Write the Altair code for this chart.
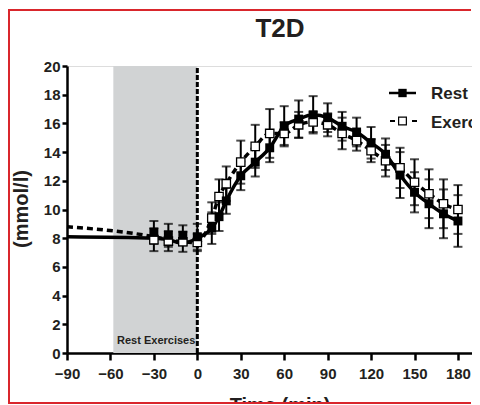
import altair as alt
import pandas as pd

# ---- data ----
times = [-30, -20, -10, 0, 10, 15, 20, 30, 40, 50, 60, 70, 80, 90, 100, 110, 120, 130, 140, 150, 160, 170, 180]
rest_mean = [8.4, 8.2, 8.2, 8.1, 8.7, 9.5, 10.6, 12.35, 13.3, 14.3, 15.8, 16.3, 16.6, 16.4, 15.8, 15.4, 14.65, 13.85, 12.4, 11.2, 10.4, 9.7, 9.2]
rest_sem = [0.8, 0.8, 0.7, 0.9, 1.1, 1.0, 0.9, 1.0, 1.0, 1.0, 1.4, 1.3, 1.3, 1.0, 1.0, 1.0, 1.1, 1.1, 1.6, 1.4, 1.7, 1.7, 1.8]
exer_mean = [7.9, 7.8, 7.75, 7.7, 9.4, 10.9, 11.8, 13.3, 14.4, 15.3, 15.3, 15.9, 16.1, 15.9, 15.3, 14.8, 14.1, 13.4, 12.9, 11.9, 11.1, 10.4, 10.0]
exer_sem = [0.8, 0.7, 0.7, 0.6, 1.1, 1.2, 1.2, 1.5, 1.5, 1.7, 0.8, 0.9, 0.7, 0.8, 1.1, 0.7, 0.8, 1.1, 1.4, 1.6, 1.7, 1.7, 1.7]

line_times = [-90, -30, -20, -10, 0] + times[4:]
rest_line = [8.1, 8.0, 7.9, 7.65, 8.0] + rest_mean[4:]
exer_line = [8.8, 8.1, 7.9, 7.75, 7.7] + exer_mean[4:]

shade_start = -58
shade_end = 0
x_ticks = [-90, -60, -30, 0, 30, 60, 90, 120, 150, 180]
y_ticks = [0, 2, 4, 6, 8, 10, 12, 14, 16, 18, 20]

FONT = "Liberation Sans"
INK = "#231f20"
FRAME = "#d9262c"

pts = pd.DataFrame({
    "t": times * 2,
    "v": rest_mean + exer_mean,
    "lo": [m - s for m, s in zip(rest_mean, rest_sem)] + [m - s for m, s in zip(exer_mean, exer_sem)],
    "hi": [m + s for m, s in zip(rest_mean, rest_sem)] + [m + s for m, s in zip(exer_mean, exer_sem)],
    "g": ["Rest"] * len(times) + ["Exercise"] * len(times),
})
rest_pts = pts[pts.g == "Rest"]
exer_pts = pts[pts.g == "Exercise"]
rest_ln = pd.DataFrame({"t": line_times, "v": rest_line})
exer_ln = pd.DataFrame({"t": line_times, "v": exer_line})

xs = alt.Scale(domain=[-90, 189.7], nice=False, zero=False)
ys = alt.Scale(domain=[0, 20], nice=False, zero=False)

AX = alt.Axis(values=x_ticks, format="d", grid=False, title=None)
AY = alt.Axis(values=y_ticks, grid=False, title=None)


def X(f):
    return alt.X(f, type="quantitative", scale=xs, axis=AX)


def Y(f):
    return alt.Y(f, type="quantitative", scale=ys, axis=AY)


one = pd.DataFrame({"a": [0]})

# red frame drawn as thin filled strips: left, top and bottom edges
frame_top = alt.Chart(one).mark_rect(color=FRAME).encode(
    x=alt.value(-59), x2=alt.value(404), y=alt.value(-57), y2=alt.value(-55))
frame_left = alt.Chart(one).mark_rect(color=FRAME).encode(
    x=alt.value(-59), x2=alt.value(-57), y=alt.value(-57), y2=alt.value(338))
frame_bottom = alt.Chart(one).mark_rect(color=FRAME).encode(
    x=alt.value(-59), x2=alt.value(404), y=alt.value(336), y2=alt.value(338))

shade = alt.Chart(pd.DataFrame({"a": [shade_start], "b": [shade_end], "lo": [0], "hi": [20]})).mark_rect(
    color="#d1d3d4"
).encode(x=X("a"), x2="b", y=Y("lo"), y2="hi")


def errbars(df):
    c = alt.Chart(df)
    r = c.mark_rule(color="black", strokeWidth=2).encode(x=X("t"), y=Y("lo"), y2="hi")
    t1 = c.mark_tick(color="black", thickness=2, size=9, orient="horizontal").encode(x=X("t"), y=Y("hi"))
    t2 = c.mark_tick(color="black", thickness=2, size=9, orient="horizontal").encode(x=X("t"), y=Y("lo"))
    return [r, t1, t2]


rest_line_m = alt.Chart(rest_ln).mark_line(color="black", strokeWidth=3.5, interpolate="monotone").encode(
    x=X("t"), y=Y("v"))
exer_line_m = alt.Chart(exer_ln).mark_line(color="black", strokeWidth=3.5, strokeDash=[6, 4],
                                           interpolate="monotone").encode(x=X("t"), y=Y("v"))

vline = alt.Chart(pd.DataFrame({"t": [0], "a": [0], "b": [20]})).mark_rule(
    color="black", strokeWidth=3, strokeDash=[5, 2]
).encode(x=X("t"), y=Y("a"), y2="b")

exer_m = alt.Chart(exer_pts).mark_point(shape="square", filled=True, fill="white", stroke="black",
                                        strokeWidth=1.3, size=70, opacity=1).encode(x=X("t"), y=Y("v"))
rest_m = alt.Chart(rest_pts).mark_point(shape="square", filled=True, color="black", size=80,
                                        opacity=1).encode(x=X("t"), y=Y("v"))

shade_label = alt.Chart(pd.DataFrame({"t": [0], "v": [0.6], "s": ["Rest Exercises"]})).mark_text(
    align="right", baseline="alphabetic", dx=-2, font=FONT, fontSize=11, fontWeight="bold", color=INK
).encode(x=X("t"), y=Y("v"), text="s:N")

title = alt.Chart(pd.DataFrame({"s": ["T2D"]})).mark_text(
    align="center", baseline="alphabetic", font=FONT, fontSize=26, fontWeight="bold", color=INK
).encode(x=alt.value(213), y=alt.value(-29), text="s:N")

ytitle = alt.Chart(pd.DataFrame({"s": ["(mmol/l)"]})).mark_text(
    align="center", baseline="middle", angle=270, font=FONT, fontSize=20, fontWeight="bold", color=INK
).encode(x=alt.value(-45), y=alt.value(143), text="s:N")

xtitle = alt.Chart(pd.DataFrame({"s": ["Time (min)"]})).mark_text(
    align="center", baseline="top", font=FONT, fontSize=20, fontWeight="bold", color=INK
).encode(x=alt.value(213), y=alt.value(330), text="s:N")

# legend
LX = 322
leg1_line = alt.Chart(one).mark_rule(color="black", strokeWidth=2.5).encode(
    x=alt.value(LX), x2=alt.value(LX + 27), y=alt.value(27))
leg1_pt = alt.Chart(one).mark_point(shape="square", filled=True, color="black", size=70, opacity=1).encode(
    x=alt.value(LX + 13.5), y=alt.value(27))
leg2_line = alt.Chart(one).mark_rule(color="black", strokeWidth=2, strokeDash=[5, 17]).encode(
    x=alt.value(LX + 1), x2=alt.value(LX + 28), y=alt.value(55))
leg2_pt = alt.Chart(one).mark_point(shape="square", filled=True, fill="white", stroke="black", strokeWidth=1.2,
                                    size=60, opacity=1).encode(x=alt.value(LX + 13.5), y=alt.value(55))
leg_t1 = alt.Chart(pd.DataFrame({"s": ["Rest"]})).mark_text(
    align="left", baseline="alphabetic", font=FONT, fontSize=17, fontWeight="bold", color=INK
).encode(x=alt.value(LX + 42), y=alt.value(33), text="s:N")
leg_t2 = alt.Chart(pd.DataFrame({"s": ["Exercise"]})).mark_text(
    align="left", baseline="alphabetic", font=FONT, fontSize=17, fontWeight="bold", color=INK
).encode(x=alt.value(LX + 42), y=alt.value(62), text="s:N")

chart = alt.layer(
    shade, *errbars(exer_pts), *errbars(rest_pts), exer_line_m, rest_line_m, vline,
    exer_m, rest_m, shade_label, title, ytitle, xtitle,
    leg1_line, leg1_pt, leg2_line, leg2_pt, leg_t1, leg_t2,
    frame_top, frame_left, frame_bottom,
).properties(
    width=405, height=287,
    autosize=alt.AutoSizeParams(type="none"),
    padding={"left": 59, "top": 58, "right": 0, "bottom": 51},
).configure_view(stroke=None).configure(background="white").configure_axis(
    domainWidth=2.5, domainColor="black", tickColor="black", tickWidth=2.5,
    labelFont=FONT, labelFontSize=15, labelFontWeight="bold", labelColor=INK,
    labelOverlap=False, labelFlush=False,
).configure_axisX(tickSize=7, labelPadding=6).configure_axisY(tickSize=5, labelPadding=2)

chart.save("out.html", embed_options={"renderer": "svg", "actions": False})
